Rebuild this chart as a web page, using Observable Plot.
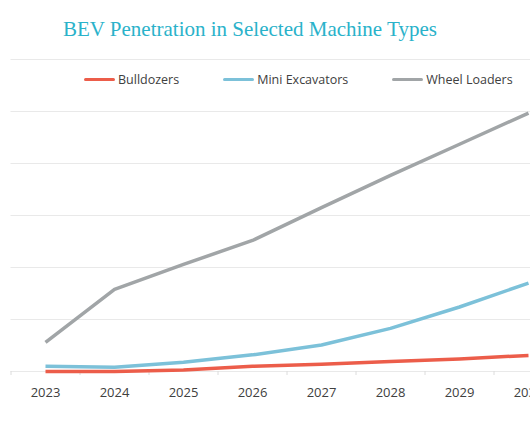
<!DOCTYPE html>
<html>
<head>
<meta charset="utf-8">
<script src="https://cdn.jsdelivr.net/npm/d3@7"></script>
<script src="https://cdn.jsdelivr.net/npm/@observablehq/plot@0.6"></script>
<style>
  html, body { margin: 0; padding: 0; background: #fff; overflow: hidden; }
  #wrap { position: relative; width: 530px; height: 442px; overflow: hidden; background: #fff; }
  #title { height: 48px; box-sizing: border-box; padding-left: 63px; padding-top: 19px;
    font-family: "Liberation Serif", "DejaVu Serif", serif; font-size: 21px; line-height: 21px;
    color: #2ab2ca; white-space: nowrap; }
  #legend { position: absolute; left: 84px; top: 70px; height: 19px; display: flex; align-items: center; gap: 44px;
    font-family: "Open Sans", "Noto Sans", sans-serif; font-size: 12.5px; color: #404040; white-space: nowrap; }
  #legend .item { display: flex; align-items: center; }
  #legend .sw { width: 31px; height: 3.5px; border-radius: 2px; margin-right: 3px; }
  #chart svg { display: block; max-width: none; }
</style>
</head>
<body>
<div id="wrap">
  <div id="title"></div>
  <div id="chart"></div>
  <div id="legend"></div>
</div>
<script>
const titleText = "BEV Penetration in Selected Machine Types";
const years = [2023, 2024, 2025, 2026, 2027, 2028, 2029, 2030];
const seriesNames = ["Bulldozers", "Mini Excavators", "Wheel Loaders"];
const seriesColors = ["#ec5d4a", "#7cc1d9", "#a1a5a7"];
const bulldozers = [0.0, 0.0, 0.3, 1.0, 1.4, 1.9, 2.4, 3.1];
const miniExcavators = [1.0, 0.8, 1.8, 3.2, 5.1, 8.3, 12.4, 17.0];
const wheelLoaders = [5.6, 15.8, 20.6, 25.2, 31.5, 37.7, 43.7, 49.7];
const yTicks = [0, 10, 20, 30, 40, 50, 60];

document.getElementById("title").textContent = titleText;

const seriesValues = [bulldozers, miniExcavators, wheelLoaders];
const data = [];
seriesNames.forEach((name, s) => {
  years.forEach((yr, i) => data.push({series: name, year: yr, value: seriesValues[s][i]}));
});
const bounds = years.map(y => y - 0.5);

const chart = Plot.plot({
  width: 530,
  height: 394,
  marginLeft: 10.5,
  marginRight: 0,
  marginTop: 11,
  marginBottom: 71,
  x: {type: "linear", domain: [2022.5, 2030.5], range: [10.5, 562.5], axis: null},
  y: {domain: [0, 60], axis: null},
  color: {domain: seriesNames, range: seriesColors},
  marks: [
    Plot.gridY(yTicks, {stroke: "#e9e9e9", strokeOpacity: 1, strokeWidth: 1}),
    Plot.axisX(bounds, {tickSize: 4, tickFormat: () => "", label: null, stroke: "#dcdcdc", strokeOpacity: 1}),
    Plot.axisX(years, {tickSize: 0, tickPadding: 16, tickFormat: d => String(d), label: null,
      fontSize: 13, fontFamily: "Open Sans, Noto Sans, sans-serif", fill: "#404040"}),
    Plot.line(data, {x: "year", y: "value", z: "series", stroke: "series",
      strokeWidth: 3.5, strokeLinejoin: "round", strokeLinecap: "butt"})
  ]
});
chart.style.fontFamily = "Open Sans, Noto Sans, sans-serif";
document.getElementById("chart").appendChild(chart);

const legend = document.getElementById("legend");
seriesNames.forEach((name, i) => {
  const item = document.createElement("div");
  item.className = "item";
  const sw = document.createElement("span");
  sw.className = "sw";
  sw.style.background = seriesColors[i];
  const t = document.createElement("span");
  t.textContent = name;
  item.appendChild(sw);
  item.appendChild(t);
  legend.appendChild(item);
});
</script>
</body>
</html>
